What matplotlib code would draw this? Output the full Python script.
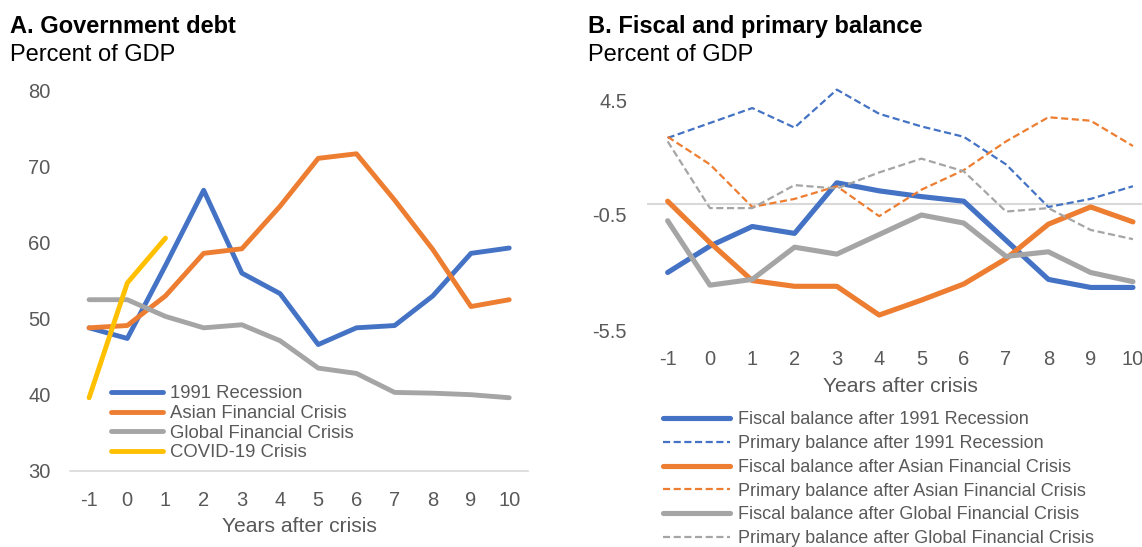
import matplotlib
matplotlib.use("Agg")
import matplotlib.pyplot as plt

plt.rcParams["font.family"] = ["Liberation Sans", "DejaVu Sans"]

W, H = 1142, 547

BLUE   = "#4472C4"
ORANGE = "#ED7D31"
GREY   = "#A5A5A5"
YELLOW = "#FFC000"
TEXT   = "#595959"
RULE   = "#D9D9D9"

# ------------------------------------------------------------------ #
#  Data                                                               #
# ------------------------------------------------------------------ #

years       = [-1, 0, 1, 2, 3, 4, 5, 6, 7, 8, 9, 10]
covid_years = [-1, 0, 1]

# Panel A: government debt, percent of GDP
debt_1991  = [48.8, 47.4, 57.0, 66.9, 56.0, 53.3, 46.6, 48.8, 49.1, 53.0, 58.6, 59.3]
debt_asian = [48.8, 49.1, 53.0, 58.6, 59.2, 64.8, 71.1, 71.7, 65.6, 59.1, 51.6, 52.5]
debt_gfc   = [52.5, 52.5, 50.3, 48.8, 49.2, 47.1, 43.5, 42.8, 40.3, 40.2, 40.0, 39.6]
debt_covid = [39.6, 54.7, 60.6]

debt_labels = ["1991 Recession", "Asian Financial Crisis",
               "Global Financial Crisis", "COVID-19 Crisis"]

# Panel B: fiscal and primary balance, percent of GDP
fiscal_1991   = [-3.0, -1.85, -1.0, -1.3, 0.9, 0.55, 0.3, 0.1, -1.6, -3.3, -3.65, -3.65]
primary_1991  = [2.85, 3.5, 4.15, 3.3, 4.95, 3.9, 3.35, 2.9, 1.7, -0.15, 0.2, 0.75]
fiscal_asian  = [0.1, -1.7, -3.35, -3.6, -3.6, -4.85, -4.2, -3.5, -2.4, -0.9, -0.15, -0.8]
primary_asian = [2.9, 1.7, -0.15, 0.2, 0.75, -0.55, 0.6, 1.45, 2.7, 3.75, 3.6, 2.5]
fiscal_gfc    = [-0.75, -3.55, -3.3, -1.9, -2.2, -1.35, -0.5, -0.85, -2.3, -2.1, -3.0, -3.4]
primary_gfc   = [2.7, -0.2, -0.2, 0.8, 0.65, 1.35, 1.95, 1.4, -0.35, -0.2, -1.15, -1.55]

balance_labels = [
    "Fiscal balance after 1991 Recession",
    "Primary balance after 1991 Recession",
    "Fiscal balance after Asian Financial Crisis",
    "Primary balance after Asian Financial Crisis",
    "Fiscal balance after Global Financial Crisis",
    "Primary balance after Global Financial Crisis",
]

debt_ticks    = [30, 40, 50, 60, 70, 80]
balance_ticks = [-5.5, -0.5, 4.5]


def _style_axis(ax):
    ax.set_xlim(-1.5, 10.5)
    ax.set_xticks(years)
    ax.set_xticklabels([str(y) for y in years])
    ax.tick_params(axis="both", length=0, labelsize=14.5, labelcolor=TEXT)
    ax.tick_params(axis="x", pad=14.5)
    ax.tick_params(axis="y", pad=14)
    for side in ("top", "right", "left", "bottom"):
        ax.spines[side].set_visible(False)


fig = plt.figure(figsize=(W / 100, H / 100), dpi=100)

# ------------------------------------------------------------------ #
#  Panel A                                                            #
# ------------------------------------------------------------------ #
ax_a = fig.add_axes([70 / W, (H - 470.7) / H, 458.3 / W, 380 / H])
_style_axis(ax_a)
ax_a.spines["bottom"].set_visible(True)
ax_a.spines["bottom"].set_color(RULE)
ax_a.spines["bottom"].set_linewidth(1.2)
ax_a.set_ylim(30, 80)
ax_a.set_yticks(debt_ticks)

solid = dict(lw=3.5, solid_capstyle="round", solid_joinstyle="round")
ax_a.plot(years, debt_1991, color=BLUE, label=debt_labels[0], **solid)
ax_a.plot(years, debt_asian, color=ORANGE, label=debt_labels[1], **solid)
ax_a.plot(years, debt_gfc, color=GREY, label=debt_labels[2], **solid)
ax_a.plot(covid_years, debt_covid, color=YELLOW, label=debt_labels[3], **solid)

ax_a.set_xlabel("Years after crisis", fontsize=15.2, color=TEXT)
ax_a.xaxis.label.set_va("center")
ax_a.xaxis.set_label_coords(0.5, -(527 - 470.7) / 380)

ax_a.legend(loc="upper left", bbox_to_anchor=(111 / W, (H - 385.5) / H),
            bbox_transform=fig.transFigure, frameon=False, borderpad=0,
            fontsize=13.3, labelcolor=TEXT, handlelength=2.8,
            handletextpad=0.38, labelspacing=0.14, borderaxespad=0)

# ------------------------------------------------------------------ #
#  Panel B                                                            #
# ------------------------------------------------------------------ #
b_top = 5.3
b_h = (330 - 81.6)
ax_b = fig.add_axes([646.5 / W, (H - 330) / H, 507.6 / W, b_h / H])
_style_axis(ax_b)
ax_b.set_ylim(-5.5, b_top)
ax_b.set_yticks(balance_ticks)
ax_b.set_yticklabels(["-5.5", "-0.5", "4.5"])
ax_b.axhline(0, color=RULE, lw=1.5, zorder=1)

solid_b = dict(lw=3.7, solid_capstyle="round", solid_joinstyle="round")
dashed  = dict(lw=1.6, dashes=(3.2, 1.6))
ax_b.plot(years, fiscal_1991, color=BLUE, label=balance_labels[0], **solid_b)
ax_b.plot(years, primary_1991, color=BLUE, label=balance_labels[1], **dashed)
ax_b.plot(years, fiscal_asian, color=ORANGE, label=balance_labels[2], **solid_b)
ax_b.plot(years, primary_asian, color=ORANGE, label=balance_labels[3], **dashed)
ax_b.plot(years, fiscal_gfc, color=GREY, label=balance_labels[4], **solid_b)
ax_b.plot(years, primary_gfc, color=GREY, label=balance_labels[5], **dashed)

ax_b.set_xlabel("Years after crisis", fontsize=15.2, color=TEXT)
ax_b.xaxis.label.set_va("center")
ax_b.xaxis.set_label_coords(0.5, -(387 - 330) / b_h)

ax_b.legend(loc="upper left", bbox_to_anchor=(663 / W, (H - 411.5) / H),
            bbox_transform=fig.transFigure, frameon=False, borderpad=0,
            fontsize=13, labelcolor=TEXT, handlelength=3.7,
            handletextpad=0.45, labelspacing=0.37, borderaxespad=0)

# ------------------------------------------------------------------ #
#  Titles                                                             #
# ------------------------------------------------------------------ #
fig.text(10 / W, 1 - 33.3 / H, "A. Government debt", fontsize=17,
         fontweight="bold", va="baseline", ha="left")
fig.text(10 / W, 1 - 60.7 / H, "Percent of GDP", fontsize=17,
         va="baseline", ha="left")
fig.text(588.3 / W, 1 - 33.3 / H, "B. Fiscal and primary balance", fontsize=17,
         fontweight="bold", va="baseline", ha="left")
fig.text(588.3 / W, 1 - 60.7 / H, "Percent of GDP", fontsize=17,
         va="baseline", ha="left")

fig.savefig("out.png", dpi=100)
